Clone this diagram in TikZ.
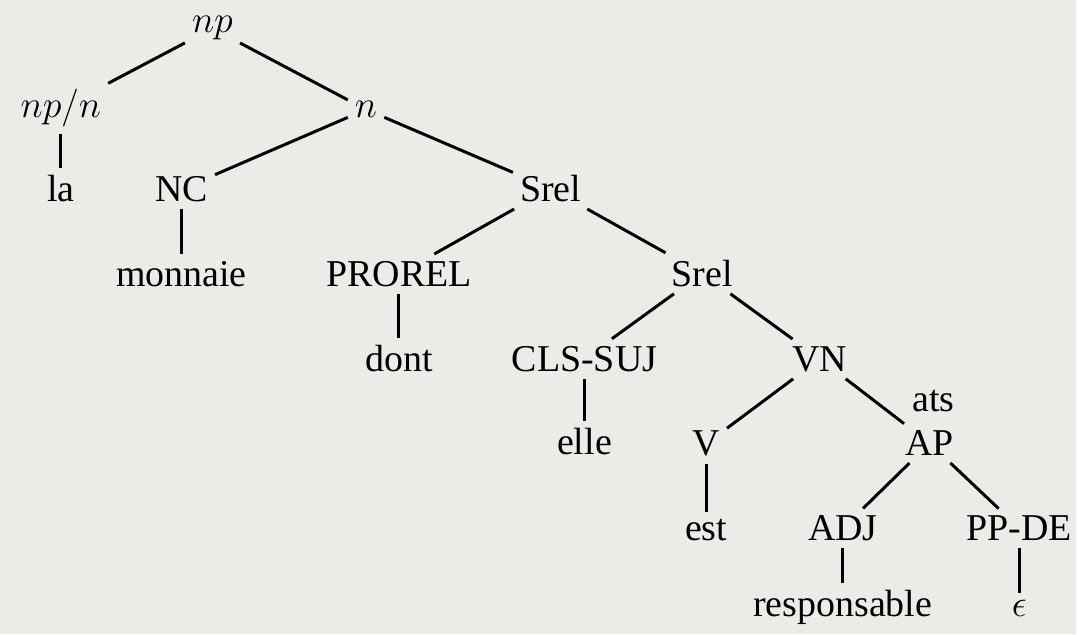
\RequirePackage{fix-cm}
\documentclass[tikz,border=0pt]{standalone}
\usepackage{fontspec}
\setmainfont{Liberation Serif}
\definecolor{bgc}{RGB}{235,235,231}
\begin{document}
\begin{tikzpicture}[x=1pt,y=-1pt,
  lbl/.style={font=\fontsize{38}{40}\selectfont, anchor=base, inner xsep=7pt, inner ysep=7pt},
  edge/.style={line width=3pt}]
\fill[bgc] (0,0) rectangle (1079,636);
\node[lbl] (np) at (213,33) {$np$};
\node[lbl] (npn) at (61,118) {$np/n$};
\node[lbl] (n) at (367,118) {$n$};
\node[lbl] (la) at (61,202) {la};
\node[lbl] (NC) at (182,202) {NC};
\node[lbl] (srelA) at (552,202) {Srel};
\node[lbl] (monnaie) at (182,287) {monnaie};
\node[lbl] (prorel) at (400,287) {PROREL};
\node[lbl] (srelB) at (704,287) {Srel};
\node[lbl] (dont) at (400,372) {dont};
\node[lbl] (cls) at (586,372) {CLS-SUJ};
\node[lbl] (VN) at (822,372) {VN};
\node[lbl] (elle) at (586,456) {elle};
\node[lbl] (ats) at (936,413) {ats};
\node[lbl] (V) at (708,457) {V};
\node[lbl] (AP) at (932,457) {AP};
\node[lbl] (est) at (708,542) {est};
\node[lbl] (ADJ) at (845,542) {ADJ};
\node[lbl] (PPDE) at (1022,542) {PP-DE};
\node[lbl] (resp) at (845,618) {responsable};
\node[lbl] (eps) at (1022,618) {$\epsilon$};
\draw[edge] (np) -- (npn);
\draw[edge] (np) -- (n);
\draw[edge] (npn) -- (la);
\draw[edge] (n) -- (NC);
\draw[edge] (n) -- (srelA);
\draw[edge] (NC) -- (monnaie);
\draw[edge] (srelA) -- (prorel);
\draw[edge] (srelA) -- (srelB);
\draw[edge] (prorel) -- (dont);
\draw[edge] (srelB) -- (cls);
\draw[edge] (srelB) -- (VN);
\draw[edge] (cls) -- (elle);
\draw[edge] (VN) -- (V);
\draw[edge] (VN) -- (AP);
\draw[edge] (V) -- (est);
\draw[edge] (AP) -- (ADJ);
\draw[edge] (AP) -- (PPDE);
\draw[edge] (ADJ) -- (resp);
\draw[edge] (PPDE) -- (eps);
\end{tikzpicture}
\end{document}
